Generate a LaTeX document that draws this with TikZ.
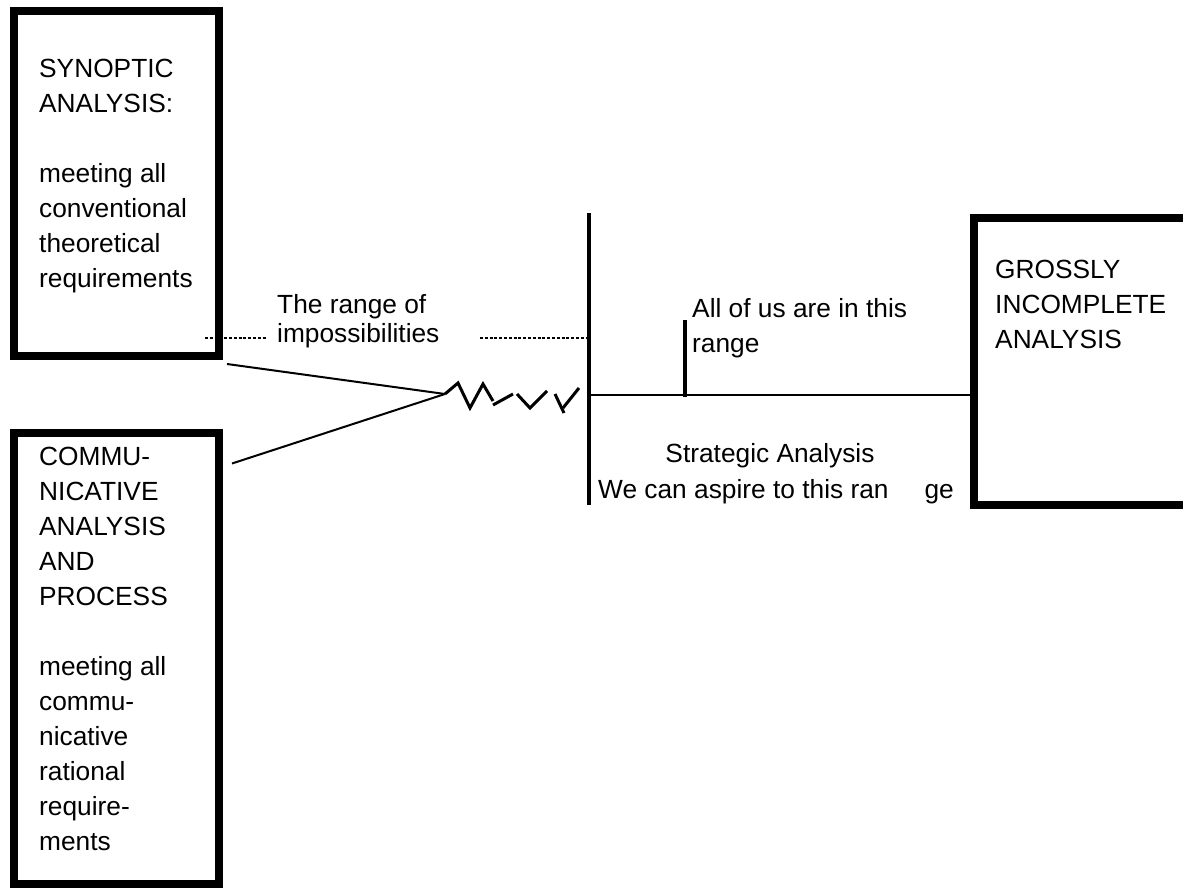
\documentclass[tikz,border=0pt]{standalone}
\usepackage{fontspec}
\setmainfont{Liberation Sans}
\begin{document}
\begin{tikzpicture}[x=1pt,y=-1pt,
  box/.style={draw,line width=8pt,inner sep=0pt},
  txt/.style={inner sep=0pt,anchor=base west,align=left,font=\fontsize{26.3}{35}\selectfont},
  thinline/.style={line width=2pt},
  dotline/.style={line width=2.5pt,dash pattern=on 3pt off 1.8pt},
  zig/.style={line width=3pt,line join=miter},
  bar/.style={line width=4.5pt}]
\clip (0,0) rectangle (1183,888);
\fill[white] (0,0) rectangle (1183,888);
% boxes
\node[box,minimum width=205pt,minimum height=344.5pt] (syn) at (116.5,183.75) {};
\node[box,minimum width=205pt,minimum height=451pt] (com) at (116.5,658) {};
\node[box,minimum width=226pt,minimum height=287.5pt] (gro) at (1087,361.25) {};
% box texts (anchored at the baseline of the last line)
\node[txt] (syntxt) at (39,287) {SYNOPTIC\\ANALYSIS:\\[35pt]meeting all\\conventional\\theoretical\\requirements};
\node[txt] (comtxt) at (39,850) {COMMU-\\NICATIVE\\ANALYSIS\\AND\\PROCESS\\[35pt]meeting all\\commu-\\nicative\\rational\\require-\\ments};
\node[txt] (grotxt) at (995,348) {GROSSLY\\INCOMPLETE\\ANALYSIS};
% range of impossibilities
\node[txt,font=\fontsize{26.3}{29}\selectfont] (imp) at (277,342) {The range of\\impossibilities};
\coordinate (d1a) at (205,338);
\coordinate (d1b) at (267,338);
\coordinate (d2a) at (480,338);
\coordinate (d2b) at (587,338);
\draw[dotline] (d1a) -- (d1b);
\draw[dotline] (d2a) -- (d2b);
% converging lines
\coordinate (J) at (445,394);
\coordinate (L) at ([shift={(9,35)}]com.north east);
\draw[thinline] ([shift={(4,4)}]syn.south east) -- (J);
\draw[thinline] (L) -- (J);
% zigzag
\draw[zig] (J) -- (458,383) -- (470,408) -- (483,384) -- (493,401);
\draw[zig] (493,405) -- (513,394);
\draw[zig] (517,394) -- (530,408) -- (547,391);
\draw[zig] (555,394) -- (564,413);
\draw[zig] (563,408) -- (579,388);
% scale
\coordinate (vt) at (589,213);
\coordinate (vb) at (589,505);
\coordinate (hm) at (589,395);
\draw[bar] (vt) -- (vb);
\draw[thinline] (hm) -- (gro.west |- hm);
\coordinate (st) at (685,320);
\coordinate (sb) at (685,397);
\draw[line width=4pt] (st) -- (sb);
\node[txt] (allus) at (692,352) {All of us are in this\\range};
\node[txt,anchor=base] (strat) at (770,462) {Strategic Analysis};
\node[txt] (aspire) at (598,498) {We can aspire to this ran\hspace{36pt}ge};
\end{tikzpicture}
\end{document}
